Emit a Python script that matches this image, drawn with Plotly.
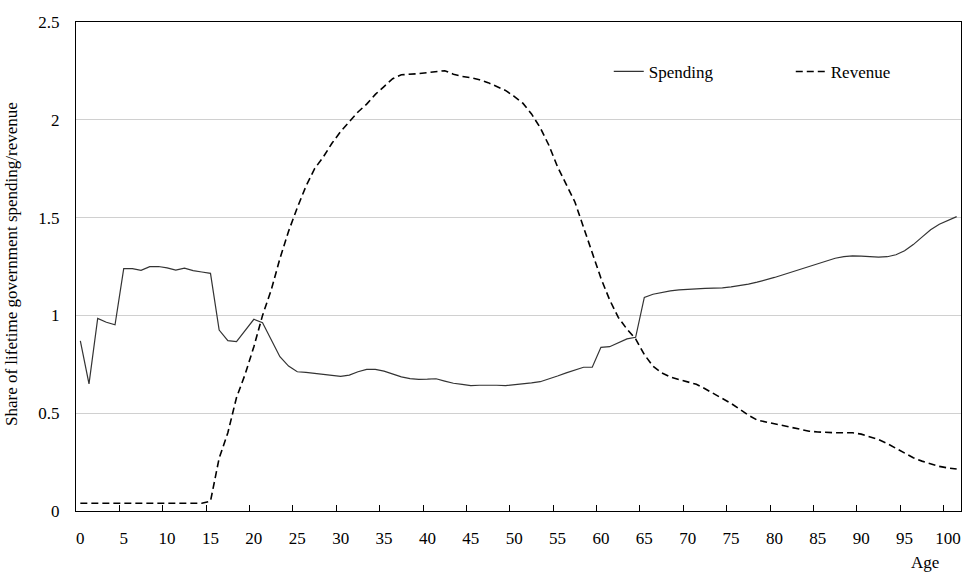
import plotly.graph_objects as go

ages = list(range(0, 102))

spending = [
    0.870, 0.650, 0.985, 0.965, 0.952, 1.239, 1.239, 1.230, 1.249, 1.250,
    1.243, 1.232, 1.242, 1.229, 1.222, 1.215, 0.925, 0.871, 0.866, 0.925,
    0.980, 0.963, 0.878, 0.789, 0.741, 0.712, 0.709, 0.703, 0.699, 0.694,
    0.688, 0.695, 0.712, 0.724, 0.724, 0.715, 0.700, 0.686, 0.677, 0.673,
    0.674, 0.676, 0.664, 0.653, 0.647, 0.641, 0.643, 0.644, 0.643, 0.641,
    0.645, 0.649, 0.655, 0.661, 0.674, 0.690, 0.706, 0.722, 0.735, 0.735,
    0.837, 0.840, 0.860, 0.880, 0.888, 1.092, 1.108, 1.118, 1.125, 1.130,
    1.134, 1.136, 1.138, 1.139, 1.141, 1.146, 1.152, 1.160, 1.170, 1.181,
    1.194, 1.208, 1.222, 1.236, 1.251, 1.266, 1.280, 1.292, 1.300, 1.304,
    1.303, 1.300, 1.298, 1.300, 1.310, 1.330, 1.362, 1.400, 1.438, 1.466,
    1.487, 1.505,
]

revenue = [
    0.04, 0.04, 0.04, 0.04, 0.04, 0.04, 0.04, 0.04, 0.04, 0.04,
    0.04, 0.04, 0.04, 0.04, 0.04, 0.05, 0.27, 0.40, 0.58, 0.70,
    0.84, 1.00, 1.13, 1.29, 1.43, 1.55, 1.66, 1.75, 1.81, 1.88,
    1.94, 1.99, 2.04, 2.08, 2.13, 2.17, 2.21, 2.23, 2.232, 2.236,
    2.241, 2.245, 2.251, 2.233, 2.222, 2.215, 2.205, 2.19, 2.172, 2.15,
    2.12, 2.085, 2.03, 1.96, 1.87, 1.76, 1.67, 1.58, 1.45, 1.32,
    1.19, 1.08, 0.99, 0.93, 0.88, 0.80, 0.74, 0.706, 0.685, 0.672,
    0.66, 0.648, 0.625, 0.60, 0.575, 0.55, 0.52, 0.49, 0.465, 0.455,
    0.445, 0.435, 0.425, 0.415, 0.408, 0.404, 0.401, 0.400, 0.400, 0.400,
    0.393, 0.380, 0.365, 0.345, 0.32, 0.295, 0.272, 0.255, 0.24, 0.228,
    0.22, 0.215,
]

y_ticks = [0, 0.5, 1, 1.5, 2, 2.5]
y_tick_labels = ["0", "0.5", "1", "1.5", "2", "2.5"]

x_cats = [str(a) for a in ages]

FONT = "Liberation Serif, Times New Roman, serif"
FS = 17

fig = go.Figure()
fig.add_trace(go.Scatter(
    x=x_cats, y=spending, name="Spending", mode="lines",
    line=dict(color="#333333", width=1.2),
))
fig.add_trace(go.Scatter(
    x=x_cats, y=revenue, name="Revenue", mode="lines",
    line=dict(color="#000000", width=1.6, dash="7px,4px"),
))

fig.update_layout(
    width=964, height=572,
    margin=dict(l=76, r=3, t=22, b=61, autoexpand=False),
    paper_bgcolor="white", plot_bgcolor="white",
    font=dict(family=FONT, size=FS, color="#000000"),
    showlegend=True,
    legend=dict(
        orientation="h", x=0.602, y=0.898, xanchor="left", yanchor="middle",
        font=dict(family=FONT, size=FS, color="#000000"),
        bgcolor="rgba(0,0,0,0)", entrywidth=137, entrywidthmode="pixels",
    ),
    xaxis=dict(
        type="category", range=[-0.5, 101.5],
        tickmode="linear", tick0=0, dtick=5, tickangle=0, automargin=False,
        tickson="boundaries", ticks="inside", ticklen=6, tickcolor="#000000",
        showline=True, linecolor="#000000", linewidth=1.3, mirror=True,
        showgrid=False, zeroline=False, ticklabelstandoff=11,
        tickfont=dict(family=FONT, size=FS),
    ),
    yaxis=dict(
        range=[0, 2.5], tickvals=y_ticks, ticktext=y_tick_labels,
        ticks="", showline=True, linecolor="#000000", linewidth=1.3, mirror=True,
        showgrid=True, gridcolor="#d0d0d0", gridwidth=1.3, zeroline=False,
        ticklabelstandoff=12, automargin=False,
        tickfont=dict(family=FONT, size=FS),
    ),
    annotations=[
        dict(text="Age", xref="paper", yref="paper", x=(925 - 76) / 885,
             y=(511 - 562) / 489, xanchor="center", yanchor="middle",
             showarrow=False, font=dict(family=FONT, size=FS)),
        dict(text="Share of lifetime government spending/revenue", xref="paper",
             yref="paper", x=(11 - 76) / 885, y=(511 - 264) / 489,
             xanchor="center", yanchor="middle", textangle=-90,
             showarrow=False, font=dict(family=FONT, size=FS)),
    ],
)

fig.write_html(
    "out.html",
    config={"displayModeBar": False},
    post_script="document.body.style.margin='0';document.body.style.overflow='hidden';",
)
